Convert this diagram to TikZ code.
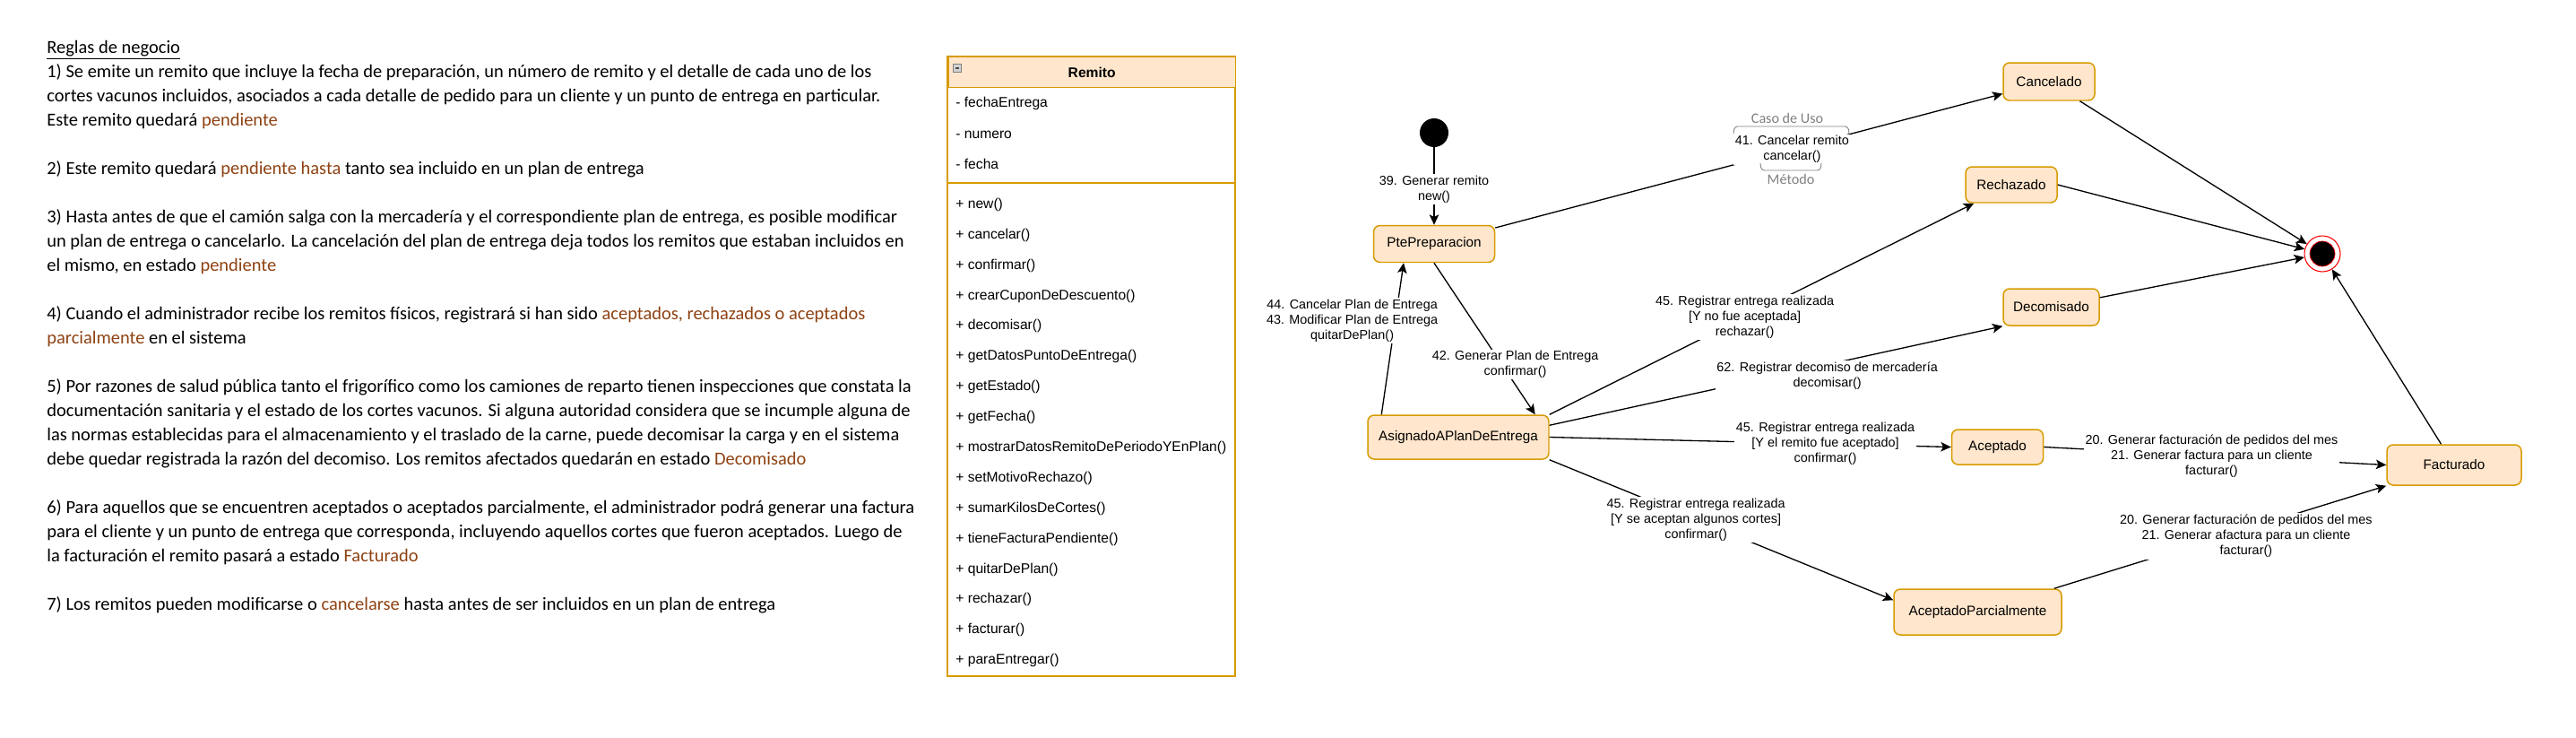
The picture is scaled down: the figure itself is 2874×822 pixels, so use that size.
\documentclass[tikz,border=0pt]{standalone}
\usepackage{fontspec}
\setmainfont{Liberation Sans}
\newfontfamily\calib{Carlito}
\usepackage{xcolor}
\usetikzlibrary{arrows.meta}

\definecolor{estfill}{HTML}{FFE6CC}
\definecolor{estline}{HTML}{D79B00}
\definecolor{regla}{HTML}{8E4212}
\newcommand{\resalta}[1]{\textcolor{regla}{#1}}

\tikzset{
  estado/.style={draw=estline, fill=estfill, rounded corners=4pt, line width=0.85pt,
    inner sep=0pt, font=\fontsize{8.7}{10.4}\selectfont},
  lbl/.style={fill=white, align=center, inner sep=1pt, font=\fontsize{8.2}{9.7}\selectfont},
  trans/.style={-{Stealth[length=6.5pt,width=6pt,inset=1.5pt]}, line width=0.75pt},
  gris/.style={text=gray, inner sep=0pt, font=\calib\fontsize{9.2}{11}\selectfont}
}

\begin{document}
\begin{tikzpicture}[x=0.02cm, y=-0.02cm]
  \useasboundingbox (0,0) rectangle (2874,822);

  % reglas de negocio
  \node[anchor=north west, inner sep=0pt, align=left, font=\calib\fontsize{11.65}{15.36}\selectfont] (reglas) at (52,45) {%
    \underline{Reglas de negocio}\\
    1) Se emite un remito que incluye la fecha de preparación, un número de remito y el detalle de cada uno de los\\
    cortes vacunos incluidos, asociados a cada detalle de pedido para un cliente y un punto de entrega en particular.\\
    Este remito quedará \resalta{pendiente}\\[15.36pt]
    2) Este remito quedará \resalta{pendiente hasta} tanto sea incluido en un plan de entrega\\[15.36pt]
    3) Hasta antes de que el camión salga con la mercadería y el correspondiente plan de entrega, es posible modificar\\
    un plan de entrega o cancelarlo. La cancelación del plan de entrega deja todos los remitos que estaban incluidos en\\
    el mismo, en estado \resalta{pendiente}\\[15.36pt]
    4) Cuando el administrador recibe los remitos físicos, registrará si han sido \resalta{aceptados, rechazados o aceptados}\\
    \resalta{parcialmente} en el sistema\\[15.36pt]
    5) Por razones de salud pública tanto el frigorífico como los camiones de reparto tienen inspecciones que constata la\\
    documentación sanitaria y el estado de los cortes vacunos. Si alguna autoridad considera que se incumple alguna de\\
    las normas establecidas para el almacenamiento y el traslado de la carne, puede decomisar la carga y en el sistema\\
    debe quedar registrada la razón del decomiso. Los remitos afectados quedarán en estado \resalta{Decomisado}\\[15.36pt]
    6) Para aquellos que se encuentren aceptados o aceptados parcialmente, el administrador podrá generar una factura\\
    para el cliente y un punto de entrega que corresponda, incluyendo aquellos cortes que fueron aceptados. Luego de\\
    la facturación el remito pasará a estado \resalta{Facturado}\\[15.36pt]
    7) Los remitos pueden modificarse o \resalta{cancelarse} hasta antes de ser incluidos en un plan de entrega};

  % clase Remito
  \draw[draw=estline, fill=white, line width=0.85pt] (1057,63) rectangle (1378,754);
  \node[draw=estline, fill=estfill, line width=0.85pt, minimum width=6.42cm, minimum height=0.68cm,
    anchor=north west, font=\bfseries\fontsize{8.9}{10}\selectfont] (cabecera) at (1057,63) {Remito};
  \draw[estline, line width=0.85pt] (1057,204) -- (1378,204);
  \node[draw=gray, fill=gray!35, minimum size=0.18cm, inner sep=0pt] (minus) at (1068,76) {};
  \draw[black!70, line width=1.1pt] ([xshift=-1.3pt]minus.center) -- ([xshift=1.3pt]minus.center);
  \node[anchor=west, align=left, inner sep=0pt, font=\fontsize{8.9}{19.6}\selectfont] (atributos) at (1066,148.5)
    {- fechaEntrega\\- numero\\- fecha};
  \node[anchor=west, align=left, inner sep=0pt, font=\fontsize{8.9}{19.29}\selectfont] (metodos) at (1066,482.5)
    {+ new()\\+ cancelar()\\+ confirmar()\\+ crearCuponDeDescuento()\\+ decomisar()\\+ getDatosPuntoDeEntrega()\\
     + getEstado()\\+ getFecha()\\+ mostrarDatosRemitoDePeriodoYEnPlan()\\+ setMotivoRechazo()\\
     + sumarKilosDeCortes()\\+ tieneFacturaPendiente()\\+ quitarDePlan()\\+ rechazar()\\+ facturar()\\+ paraEntregar()};

  % estados
  \node[circle, fill=black, minimum size=0.64cm, inner sep=0pt] (inicio) at (1600,148) {};
  \node[estado, minimum width=2.7cm, minimum height=0.82cm] (pte) at (1600,272) {PtePreparacion};
  \node[estado, minimum width=4.04cm, minimum height=0.98cm] (asig) at (1627,487.5) {AsignadoAPlanDeEntrega};
  \node[estado, minimum width=2.04cm, minimum height=0.84cm] (canc) at (2286,91) {Cancelado};
  \node[estado, minimum width=2.04cm, minimum height=0.8cm] (rech) at (2244,206) {Rechazado};
  \node[estado, minimum width=2.14cm, minimum height=0.82cm] (deco) at (2288.5,342.5) {Decomisado};
  \node[estado, minimum width=2.04cm, minimum height=0.78cm] (acep) at (2228.5,498.5) {Aceptado};
  \node[estado, minimum width=3.74cm, minimum height=1.02cm] (apar) at (2206.5,682.5) {AceptadoParcialmente};
  \node[estado, minimum width=3.0cm, minimum height=0.9cm] (fact) at (2738,518.5) {Facturado};
  \node[circle, draw=red, fill=white, line width=0.6pt, minimum size=0.8cm, inner sep=0pt] (fin) at (2591,283) {};
  \filldraw[fill=black, draw=red, line width=0.4pt] (fin.center) circle (0.28cm);

  % transiciones
  \draw[trans] (inicio) -- node[lbl, pos=0.54] (l39) {39. Generar remito\\new()} (pte);
  \draw[trans] (pte) -- node[lbl, pos=0.585] (l41) {41. Cancelar remito\\cancelar()} (canc);
  \draw[trans] (pte.south) -- node[lbl, pos=0.67, xshift=0.3cm] (l42) {42. Generar Plan de Entrega\\confirmar()}
    ([xshift=-0.32cm]asig.north east);
  \draw[trans] ([xshift=0.32cm]asig.north west) -- node[lbl, pos=0.62, xshift=-0.96cm] (l44)
    {44. Cancelar Plan de Entrega\\43. Modificar Plan de Entrega\\quitarDePlan()} ([xshift=-0.68cm]pte.south);
  \draw[trans] (asig.north east) -- node[lbl, pos=0.46] (l45r)
    {45. Registrar entrega realizada\\{}[Y no fue aceptada]\\rechazar()} ([xshift=0.2cm]rech.south west);
  \draw[trans] ([yshift=-0.24cm]asig.north east) -- node[lbl, pos=0.613, yshift=-0.26cm] (l62)
    {62. Registrar decomiso de mercadería\\decomisar()} (deco.south west);
  \draw[trans] (asig.east) -- node[lbl, pos=0.687] (l45a)
    {45. Registrar entrega realizada\\{}[Y el remito fue aceptado]\\confirmar()} (acep.west);
  \draw[trans] (asig.south east) -- node[lbl, pos=0.426] (l45p)
    {45. Registrar entrega realizada\\{}[Y se aceptan algunos cortes]\\confirmar()} ([yshift=-0.26cm]apar.north west);
  \draw[trans] (acep.east) -- node[lbl, pos=0.49] (l20a)
    {20. Generar facturación de pedidos del mes\\21. Generar factura para un cliente\\facturar()} (fact.west);
  \draw[trans] ([xshift=-0.18cm]apar.north east) -- node[lbl, pos=0.578, yshift=-0.16cm] (l20p)
    {20. Generar facturación de pedidos del mes\\21. Generar afactura para un cliente\\facturar()} (fact.south west);
  \draw[trans] (canc) -- (fin);
  \draw[trans] (rech.east) -- (fin);
  \draw[trans] (deco) -- (fin);
  \draw[trans] (fact) -- (fin);

  % caso de uso / metodo
  \node[gris] (casouso) at (1994,132) {Caso de Uso};
  \node[gris] (metodo) at (1998,200) {Método};
  \draw[gray, line width=0.5pt, rounded corners=2pt] (1934,149) -- (1935,141) -- (2062,141) -- (2063,149);
  \draw[gray, line width=0.5pt, rounded corners=2pt] (1964,182) -- (1965,190) -- (2031,190) -- (2032,182);
\end{tikzpicture}
\end{document}
